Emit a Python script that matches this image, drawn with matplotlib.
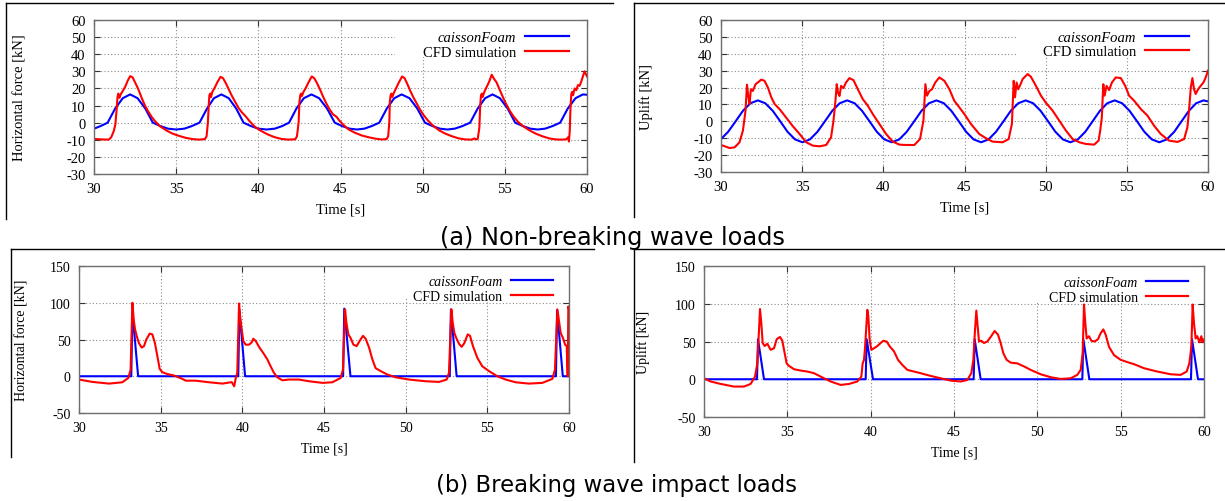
import matplotlib.pyplot as plt
from matplotlib.lines import Line2D
from matplotlib.patches import Rectangle

plt.rcParams["axes.unicode_minus"] = False
plt.rcParams["font.family"] = "Liberation Serif"

W, H = 1225, 502

# Time histories as (time [s], load [kN]) pairs
# (a) non-breaking waves, horizontal force
nb_fx_caisson = [
    (30.0, -3.5), (30.4, -2.0), (30.83, 0.0),
    (31.29, 8.3), (31.75, 14.3), (32.2, 16.5), (32.65, 14.3), (33.12, 8.3), (33.58, 0.0),
    (34.05, -2.0), (34.5, -3.5), (35.0, -4.0), (35.5, -3.5), (35.95, -2.0), (36.42, 0.0),
    (36.88, 8.3), (37.3, 14.3), (37.75, 16.5), (38.2, 14.3), (38.65, 8.3), (39.1, 0.0),
    (39.55, -2.0), (40.0, -3.5), (40.5, -4.0), (41.0, -3.5), (41.45, -2.0), (41.87, 0.0),
    (42.32, 8.3), (42.77, 14.3), (43.23, 16.5), (43.7, 14.3), (44.18, 8.3), (44.65, 0.0),
    (45.1, -2.0), (45.55, -3.5), (46.0, -4.0), (46.45, -3.5), (46.9, -2.0), (47.36, 0.0),
    (47.82, 8.3), (48.27, 14.3), (48.72, 16.5), (49.2, 14.3), (49.67, 8.3), (50.14, 0.0),
    (50.6, -2.0), (51.05, -3.5), (51.5, -4.0), (51.95, -3.5), (52.42, -2.0), (52.89, 0.0),
    (53.35, 8.3), (53.8, 14.3), (54.25, 16.5), (54.7, 14.3), (55.17, 8.3), (55.63, 0.0),
    (56.1, -2.0), (56.55, -3.5), (57.0, -4.0), (57.45, -3.5), (57.9, -2.0), (58.37, 0.0),
    (58.83, 8.3), (59.3, 14.3), (59.75, 16.5), (60.0, 16.3),
]
nb_fx_cfd = [
    (30.0, -9.5), (30.5, -9.8), (30.9, -9.9), (31.05, -8.5), (31.2, -5.0), (31.3, -1.0),
    (31.38, 8.0), (31.43, 15.0), (31.48, 17.0), (31.55, 14.5), (31.62, 16.5), (31.75, 18.5),
    (31.9, 21.0), (32.05, 24.5), (32.2, 27.2), (32.35, 26.5), (32.5, 23.5), (32.7, 19.5),
    (32.9, 14.5), (33.1, 10.0), (33.3, 6.5), (33.5, 3.5), (33.7, 1.0), (34.0, -2.0),
    (34.4, -4.5), (34.8, -6.5), (35.2, -7.8), (35.6, -8.9), (36.0, -9.6), (36.4, -9.9),
    (36.75, -9.6), (36.85, -8.0), (36.93, 0.0), (36.98, 10.0), (37.02, 16.0), (37.07, 17.0),
    (37.12, 15.0), (37.2, 18.0), (37.35, 20.5), (37.5, 23.5), (37.7, 26.8), (37.85, 26.0),
    (38.0, 23.5), (38.2, 19.5), (38.4, 15.5), (38.6, 12.0), (38.8, 8.5), (39.0, 6.0),
    (39.2, 4.0), (39.5, 0.5), (39.8, -2.5), (40.2, -5.0), (40.6, -7.0), (41.0, -8.5),
    (41.4, -9.5), (41.8, -9.9), (42.25, -9.7), (42.35, -8.0), (42.45, 0.0), (42.5, 12.0),
    (42.55, 16.0), (42.6, 17.0), (42.65, 15.5), (42.75, 18.0), (42.9, 20.5), (43.05, 23.5),
    (43.25, 27.0), (43.4, 26.0), (43.55, 23.5), (43.75, 19.5), (43.95, 15.0), (44.15, 11.0),
    (44.35, 7.5), (44.55, 4.8), (44.75, 3.5), (44.95, 1.0), (45.2, -1.5), (45.5, -4.0),
    (45.9, -6.0), (46.3, -7.5), (46.7, -8.5), (47.1, -9.3), (47.5, -9.8), (47.8, -9.6),
    (47.9, -8.0), (47.97, 0.0), (48.0, 12.0), (48.05, 16.0), (48.1, 17.0), (48.15, 15.0),
    (48.25, 17.5), (48.4, 20.5), (48.55, 23.5), (48.75, 27.0), (48.9, 26.0), (49.05, 23.0),
    (49.25, 18.5), (49.45, 14.5), (49.65, 11.0), (49.85, 7.5), (50.05, 4.5), (50.3, 1.5),
    (50.6, -1.5), (51.0, -4.5), (51.4, -6.5), (51.8, -8.0), (52.2, -9.2), (52.6, -9.8),
    (53.0, -9.9), (53.15, -9.2), (53.25, -9.8), (53.35, -9.5), (53.45, -3.0), (53.5, 10.0),
    (53.55, 16.0), (53.6, 17.0), (53.65, 15.0), (53.75, 18.0), (53.9, 21.0), (54.05, 24.0),
    (54.2, 28.0), (54.35, 25.5), (54.5, 23.5), (54.7, 19.0), (54.9, 14.5), (55.1, 10.5),
    (55.3, 7.0), (55.5, 4.0), (55.8, 0.5), (56.1, -2.0), (56.5, -4.5), (56.9, -6.5),
    (57.3, -8.0), (57.7, -9.2), (58.1, -9.8), (58.5, -9.9), (58.75, -9.7), (58.85, -8.5),
    (58.9, -11.0), (58.95, -5.0), (59.0, 10.0), (59.05, 17.0), (59.1, 18.0), (59.15, 16.0),
    (59.25, 20.0), (59.35, 19.0), (59.45, 22.0), (59.55, 21.5), (59.65, 24.0), (59.75, 27.0),
    (59.85, 30.0), (59.95, 28.0), (60.0, 27.0),
]

# (a) non-breaking waves, uplift
nb_fz_caisson = [
    (30.0, -10.5), (30.44, -6.2), (30.9, 0.0), (31.35, 6.2), (31.81, 10.7), (32.27, 12.4),
    (32.73, 10.7), (33.19, 6.2), (33.65, 0.0), (34.1, -6.2), (34.56, -10.7), (35.02, -12.4),
    (35.48, -10.7), (35.94, -6.2), (36.4, 0.0), (36.85, 6.2), (37.31, 10.7), (37.77, 12.4),
    (38.23, 10.7), (38.69, 6.2), (39.15, 0.0), (39.6, -6.2), (40.06, -10.7), (40.52, -12.4),
    (40.98, -10.7), (41.44, -6.2), (41.9, 0.0), (42.35, 6.2), (42.81, 10.7), (43.27, 12.4),
    (43.73, 10.7), (44.19, 6.2), (44.65, 0.0), (45.1, -6.2), (45.56, -10.7), (46.02, -12.4),
    (46.48, -10.7), (46.94, -6.2), (47.4, 0.0), (47.85, 6.2), (48.31, 10.7), (48.77, 12.4),
    (49.23, 10.7), (49.69, 6.2), (50.15, 0.0), (50.6, -6.2), (51.06, -10.7), (51.52, -12.4),
    (51.98, -10.7), (52.44, -6.2), (52.89, 0.0), (53.34, 6.2), (53.79, 10.7), (54.25, 12.4),
    (54.71, 10.7), (55.17, 6.2), (55.63, 0.0), (56.08, -6.2), (56.54, -10.7), (57.0, -12.4),
    (57.46, -10.7), (57.92, -6.2), (58.37, 0.0), (58.82, 6.2), (59.27, 10.7), (59.72, 12.4),
    (60.0, 11.8),
]
nb_fz_cfd = [
    (30.0, -14.0), (30.53, -15.8), (30.84, -15.4), (31.14, -12.4), (31.35, -5.5), (31.51, 6.3),
    (31.6, 21.7), (31.68, 15.0), (31.76, 10.3), (31.84, 19.0), (31.96, 18.0), (32.13, 22.0),
    (32.27, 23.0), (32.48, 24.7), (32.68, 24.0), (32.89, 20.0), (33.1, 14.2), (33.3, 10.3),
    (33.6, 7.3), (34.0, 2.4), (34.4, -2.6), (34.84, -7.5), (35.25, -12.4), (35.66, -14.4),
    (36.07, -14.8), (36.48, -14.0), (36.78, -9.5), (36.93, 0.4), (37.05, 12.2), (37.13, 22.0),
    (37.21, 17.0), (37.3, 15.0), (37.4, 21.0), (37.54, 19.7), (37.7, 23.0), (37.91, 25.6),
    (38.16, 24.4), (38.43, 19.0), (38.73, 13.2), (39.04, 9.3), (39.35, 4.3), (39.76, -1.6),
    (40.17, -7.5), (40.58, -12.0), (40.99, -13.8), (41.4, -14.0), (41.91, -14.0), (42.26, -10.5),
    (42.47, 0.4), (42.59, 22.0), (42.69, 15.2), (42.84, 18.0), (43.0, 19.0), (43.2, 23.0),
    (43.45, 26.0), (43.76, 24.0), (44.07, 19.0), (44.37, 12.2), (44.68, 8.3), (44.99, 4.3),
    (45.4, -1.6), (45.91, -7.5), (46.32, -10.0), (46.73, -12.0), (47.35, -12.4), (47.72, -10.5),
    (47.92, -1.6), (48.03, 24.0), (48.11, 14.2), (48.21, 23.0), (48.31, 19.0), (48.44, 21.7),
    (48.58, 25.0), (48.89, 28.0), (49.09, 26.4), (49.4, 21.0), (49.71, 15.2), (50.0, 11.2),
    (50.43, 6.3), (50.84, 0.4), (51.25, -5.5), (51.66, -10.5), (52.07, -12.4), (52.48, -13.4),
    (52.99, -13.8), (53.26, -11.4), (53.36, -5.5), (53.46, 2.4), (53.55, 22.0), (53.63, 15.2),
    (53.75, 21.0), (53.91, 18.5), (54.08, 23.0), (54.32, 26.0), (54.63, 25.6), (54.9, 21.0),
    (55.14, 15.2), (55.45, 12.2), (55.86, 7.3), (56.27, 3.4), (56.68, -2.6), (57.09, -7.5),
    (57.6, -11.4), (58.12, -12.2), (58.53, -10.5), (58.73, -3.6), (58.83, 6.3), (58.94, 20.0),
    (59.04, 25.6), (59.14, 19.0), (59.24, 16.2), (59.39, 19.0), (59.55, 21.0), (59.72, 23.0),
    (59.86, 26.0), (60.0, 30.0),
]

# (b) breaking waves, horizontal force
br_fx_caisson = [
    (30.0, 0.0), (33.2, 0.0), (33.27, 88.0), (33.62, 0.0), (39.75, 0.0), (39.82, 90.0),
    (40.17, 0.0), (46.17, 0.0), (46.24, 92.0), (46.62, 0.0), (52.7, 0.0), (52.77, 91.0),
    (53.12, 0.0), (59.2, 0.0), (59.27, 90.0), (59.62, 0.0), (60.0, 0.0),
]
br_fx_cfd = [
    (30.0, -4.5), (30.82, -7.7), (31.84, -10.0), (32.65, -8.2), (33.02, -2.3), (33.16, 9.0),
    (33.27, 100.0), (33.35, 77.0), (33.43, 64.0), (33.53, 55.0), (33.67, 45.0), (33.84, 39.0),
    (33.98, 41.0), (34.12, 50.0), (34.33, 58.0), (34.49, 57.0), (34.65, 45.0), (34.8, 27.0),
    (34.94, 10.0), (35.1, 5.5), (35.41, 3.0), (35.82, 1.0), (36.33, -3.6), (36.53, -6.0),
    (37.14, -6.0), (37.96, -8.2), (38.78, -10.0), (39.35, -8.0), (39.5, -13.6), (39.6, -2.3),
    (39.69, 4.5), (39.8, 99.0), (39.88, 77.0), (39.96, 64.0), (40.06, 48.0), (40.2, 43.0),
    (40.41, 43.0), (40.57, 46.0), (40.67, 51.0), (40.82, 48.0), (41.02, 40.0), (41.27, 32.0),
    (41.53, 23.0), (41.73, 13.6), (41.94, 4.5), (42.14, -1.4), (42.45, -5.5), (42.86, -4.5),
    (43.47, -4.5), (44.08, -6.8), (44.9, -9.0), (45.51, -8.2), (46.02, -2.3), (46.16, 9.0),
    (46.29, 91.0), (46.37, 73.0), (46.49, 57.0), (46.63, 52.0), (46.8, 43.0), (47.0, 41.0),
    (47.18, 48.0), (47.39, 55.0), (47.55, 51.0), (47.76, 39.0), (47.96, 23.0), (48.16, 11.0),
    (48.47, 7.0), (48.88, 2.3), (49.39, -1.4), (50.2, -4.5), (51.22, -6.8), (52.04, -7.7),
    (52.51, -4.5), (52.65, 4.5), (52.8, 91.0), (52.88, 73.0), (52.98, 59.0), (53.1, 52.0),
    (53.27, 44.0), (53.43, 40.0), (53.59, 45.0), (53.8, 57.0), (53.94, 55.0), (54.12, 41.0),
    (54.39, 25.0), (54.69, 13.6), (55.1, 7.0), (55.61, 0.0), (56.12, -4.5), (56.73, -8.2),
    (57.55, -10.0), (58.37, -9.0), (58.98, -3.6), (59.14, 9.0), (59.29, 91.0), (59.39, 75.0),
    (59.49, 59.0), (59.63, 52.0), (59.76, 43.0), (59.86, 41.0), (59.92, 0.0), (59.96, 95.0),
    (60.0, 91.0),
]

# (b) breaking waves, uplift
br_fz_caisson = [
    (30.0, 0.0), (33.18, 0.0), (33.24, 53.0), (33.6, 0.0), (39.7, 0.0), (39.76, 53.0),
    (40.14, 0.0), (46.18, 0.0), (46.24, 53.0), (46.6, 0.0), (52.7, 0.0), (52.76, 53.0),
    (53.12, 0.0), (59.22, 0.0), (59.28, 53.0), (59.64, 0.0), (60.0, 0.0),
]
br_fz_cfd = [
    (30.0, 1.3), (30.4, -3.0), (31.0, -6.2), (31.8, -9.7), (32.4, -9.7), (32.8, -6.2),
    (33.06, 3.5), (33.2, 21.0), (33.3, 65.0), (33.36, 93.0), (33.44, 74.0), (33.52, 48.0),
    (33.64, 44.0), (33.8, 47.0), (34.0, 39.0), (34.2, 41.0), (34.36, 53.0), (34.56, 56.0),
    (34.7, 51.0), (34.84, 34.5), (34.96, 21.0), (35.1, 17.7), (35.4, 13.3), (35.8, 11.5),
    (36.2, 10.2), (36.6, 8.0), (37.0, 3.5), (37.6, -3.0), (38.2, -7.5), (38.7, -6.2),
    (39.2, -3.0), (39.44, 3.5), (39.52, 21.0), (39.6, 25.7), (39.66, 41.0), (39.74, 70.0),
    (39.8, 92.0), (39.86, 83.0), (39.94, 52.0), (40.04, 39.0), (40.2, 41.0), (40.4, 44.0),
    (40.6, 48.0), (40.76, 51.0), (40.96, 50.0), (41.16, 43.0), (41.4, 37.0), (41.64, 25.7),
    (41.9, 19.0), (42.2, 12.4), (42.6, 10.2), (43.0, 8.0), (43.6, 4.4), (44.2, 1.3),
    (44.8, -1.8), (45.4, -3.0), (45.8, -0.9), (46.04, 8.0), (46.16, 25.7), (46.26, 65.0),
    (46.34, 91.0), (46.42, 70.0), (46.5, 50.0), (46.64, 51.0), (46.8, 48.0), (47.0, 50.0),
    (47.2, 56.0), (47.44, 64.0), (47.64, 59.0), (47.8, 48.0), (47.96, 34.5), (48.06, 30.0),
    (48.16, 25.7), (48.4, 22.0), (48.8, 21.0), (49.2, 17.0), (49.6, 12.4), (50.2, 6.6),
    (50.8, 2.7), (51.4, 0.4), (52.0, 1.3), (52.4, 5.8), (52.6, 12.4), (52.72, 34.5),
    (52.8, 99.0), (52.88, 74.0), (52.96, 54.0), (53.1, 57.0), (53.24, 51.0), (53.44, 50.0),
    (53.64, 53.0), (53.8, 61.0), (53.96, 66.0), (54.1, 59.0), (54.3, 43.0), (54.6, 32.0),
    (55.0, 25.7), (55.5, 22.0), (55.8, 20.0), (56.4, 14.6), (57.2, 10.2), (58.0, 6.6),
    (58.6, 5.8), (58.96, 10.2), (59.12, 21.0), (59.24, 43.0), (59.32, 99.0), (59.4, 74.0),
    (59.5, 54.0), (59.6, 57.0), (59.72, 49.0), (59.84, 57.0), (59.9, 49.0), (59.96, 53.0),
    (60.0, 50.0),
]

series_labels = ["caissonFoam", "CFD simulation"]
x_ticks = [30, 35, 40, 45, 50, 55, 60]


def unzip(points):
    return [p[0] for p in points], [p[1] for p in points]


fig = plt.figure(figsize=(W / 100, H / 100), dpi=100)


def add_panel(box, caisson, cfd, ylim, ystep, ylabel, fs, ylab_x, mask, anchor):
    x0, y0, x1, y1 = box  # pixel box, top-left origin
    ax = fig.add_axes([x0 / W, 1 - y1 / H, (x1 - x0) / W, (y1 - y0) / H])
    ax.set_axisbelow(True)

    t, v = unzip(caisson)
    ax.plot(t, v, color="#0000ff", lw=1.5, label=series_labels[0])
    t, v = unzip(cfd)
    ax.plot(t, v, color="#ff0000", lw=1.5, label=series_labels[1])

    ax.set_xlim(30, 60)
    ax.set_ylim(*ylim)
    ax.set_xticks(x_ticks)
    ax.set_yticks(range(ylim[0], ylim[1] + 1, ystep))
    ax.grid(True, color="#8c8c8c", lw=0.8, linestyle=(0, (1, 2)))
    for s in ax.spines.values():
        s.set_color("#6e6e6e")
        s.set_linewidth(1.0)
    ax.tick_params(direction="in", length=4.5, width=0.8, color="#333333",
                   top=True, right=True, labelsize=fs, pad=6)

    ax.set_xlabel("Time [s]", fontsize=fs, labelpad=5)
    ax.set_ylabel(ylabel, fontsize=fs)
    ax.yaxis.set_label_coords(ylab_x, 0.5)

    # white key area hides the grid behind the labels
    ax.add_patch(Rectangle((mask[0], mask[1]), 1 - mask[0], 1 - mask[1],
                           transform=ax.transAxes, facecolor="white",
                           edgecolor="none", zorder=1))
    leg = ax.legend(loc="upper right", bbox_to_anchor=anchor, borderaxespad=0,
                    markerfirst=False, frameon=False, fontsize=fs,
                    handlelength=3.0, handletextpad=0.6, labelspacing=0.1,
                    borderpad=0.3)
    leg.get_texts()[0].set_fontstyle("italic")
    for line in leg.get_lines():
        line.set_linewidth(1.6)
    return ax


add_panel((94, 21, 587, 175), nb_fx_caisson, nb_fx_cfd, (-30, 60), 10,
          "Horizontal force [kN]", 10.5, -0.136, (0.61, 0.76), (0.972, 0.958))
add_panel((721, 21, 1208, 173), nb_fz_caisson, nb_fz_cfd, (-30, 60), 10,
          "Uplift [kN]", 10.5, -0.14, (0.61, 0.757), (0.969, 0.96))
add_panel((79, 267, 569, 414), br_fx_caisson, br_fx_cfd, (-50, 150), 50,
          "Horizontal force [kN]", 10, -0.104, (0.655, 0.776), (0.975, 0.966))
add_panel((704, 267, 1204, 418), br_fz_caisson, br_fz_cfd, (-50, 150), 50,
          "Uplift [kN]", 10, -0.108, (0.645, 0.76), (0.976, 0.96))


# sub-figure frames: a top rule and a left rule for each plot
def frame(x0, x1, ytop, ybot):
    kw = dict(transform=fig.transFigure, color="black", lw=1.0)
    fig.add_artist(Line2D([x0 / W, x1 / W], [1 - ytop / H, 1 - ytop / H], **kw))
    fig.add_artist(Line2D([x0 / W, x0 / W], [1 - ytop / H, 1 - ybot / H], **kw))


frame(6, 613, 4, 220)
frame(634, 1225, 4, 218)
frame(11, 594, 250, 458)
frame(634, 1225, 250, 463)

fig.text(612 / W, 1 - 238 / H, "(a) Non-breaking wave loads", ha="center",
         va="center", fontsize=17.3, family="DejaVu Sans")
fig.text(617 / W, 1 - 486 / H, "(b) Breaking wave impact loads", ha="center",
         va="center", fontsize=16.4, family="DejaVu Sans")

fig.savefig("out.png", dpi=100)
